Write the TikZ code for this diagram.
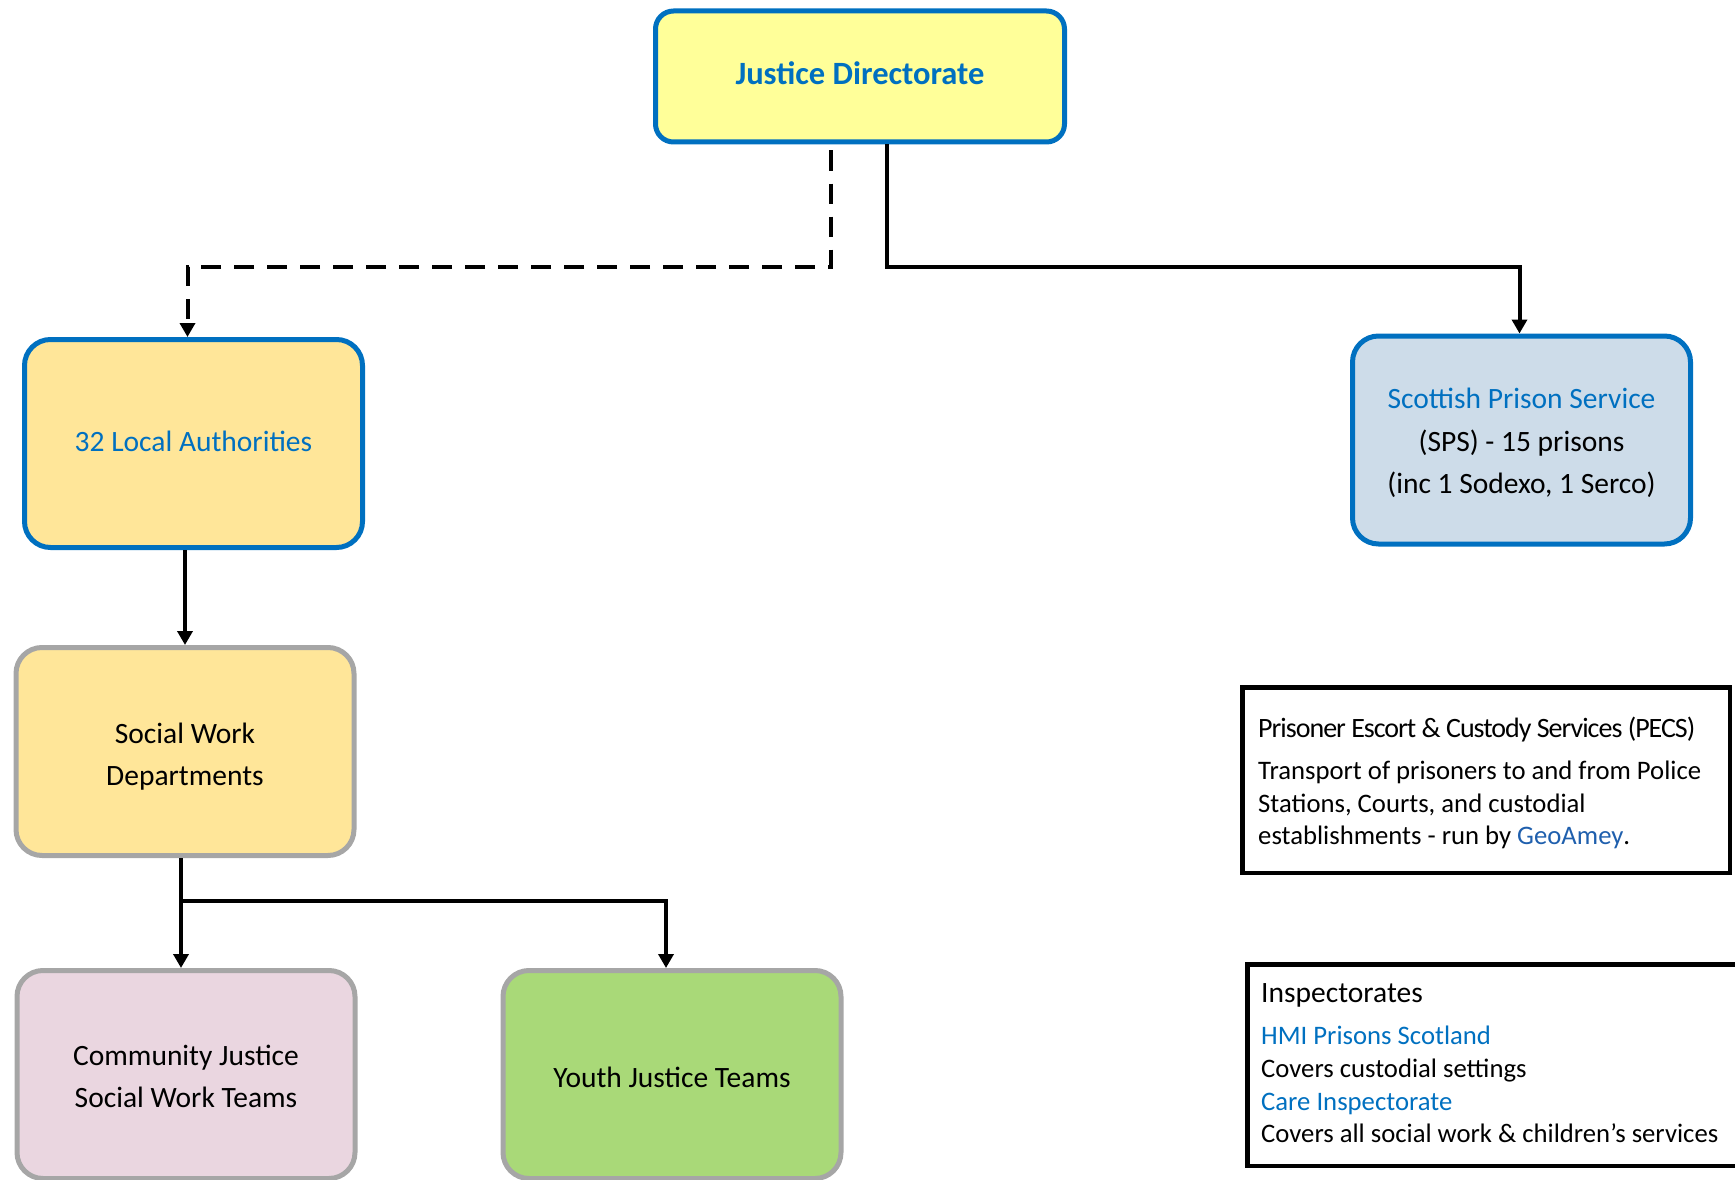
\documentclass[tikz,border=0pt]{standalone}
\usepackage{fontspec}
\setmainfont{Carlito}
\usetikzlibrary{arrows.meta,calc}
\definecolor{bluebd}{HTML}{0070C0}
\definecolor{greybd}{HTML}{A6A6A6}
\definecolor{jdfill}{HTML}{FFFF99}
\definecolor{orfill}{HTML}{FFE699}
\definecolor{spsfill}{HTML}{CDDCE9}
\definecolor{cjfill}{HTML}{EAD6E0}
\definecolor{yjfill}{HTML}{A9D978}
\definecolor{txtblue}{HTML}{0070C0}
\definecolor{linkblue}{HTML}{1F5FAD}
\begin{document}
\begin{tikzpicture}[x=1pt,y=-1pt,
  box/.style={draw, line width=5pt, rounded corners=26pt, inner sep=0pt, align=center,
    font=\fontsize{29.5}{42.5}\selectfont, minimum width=338pt, minimum height=208pt},
  bluebox/.style={box, draw=bluebd},
  greybox/.style={box, draw=greybd},
  plainbox/.style={draw=black, line width=4.5pt, inner sep=0pt},
  bodytxt/.style={anchor=base west, inner sep=0pt, font=\fontsize{26.7}{32}\selectfont},
  conn/.style={line width=4pt, -{Triangle[length=14pt,width=15pt]}},
  dashconn/.style={conn, dash pattern=on 20pt off 13pt}]
\useasboundingbox (0,0) rectangle (1735,1180);
\clip (0,0) rectangle (1735,1180);

% boxes
\node[bluebox, fill=jdfill, minimum width=409pt, minimum height=131pt, rounded corners=18pt,
      font=\fontsize{32.5}{38}\selectfont\bfseries, text=txtblue] (jd) at (860,76.5) {Justice Directorate\rule[-6pt]{0pt}{1pt}};
\node[bluebox, fill=orfill, text=txtblue] (la) at (193.5,443.5) {32 Local Authorities\rule[-4.5pt]{0pt}{1pt}};
\node[bluebox, fill=spsfill] (sps) at (1521.5,440)
  {\rule{0pt}{27pt}\textcolor{txtblue}{Scottish Prison Service}\\(SPS) - 15 prisons\\(inc 1 Sodexo, 1 Serco)};
\node[greybox, fill=orfill] (swd) at (185,751.5) {\rule{0pt}{31pt}Social Work\\Departments};
\node[greybox, fill=cjfill] (cj) at (186,1074.5) {\rule{0pt}{24.5pt}Community Justice\\Social Work Teams};
\node[greybox, fill=yjfill] (yj) at (672,1074.5) {\rule{0pt}{25.5pt}Youth Justice Teams};

\node[plainbox, minimum width=487.5pt, minimum height=185.5pt] (pecs) at (1486,780) {};
\node[plainbox, minimum width=510pt, minimum height=201.5pt] (insp) at (1502.5,1065) {};

% PECS text
\node[bodytxt, font=\fontsize{28}{32}\selectfont\addfontfeature{LetterSpace=-3.6}] (pecsT) at (1258,737) {Prisoner Escort \& Custody Services (PECS)};
\node[bodytxt] (pecs1) at (1258,779) {Transport of prisoners to and from Police};
\node[bodytxt] (pecs2) at (1258,812) {Stations, Courts, and custodial};
\node[bodytxt] (pecs3) at (1258,844) {establishments - run by \textcolor{linkblue}{GeoAmey}.};

% Inspectorates text
\node[bodytxt, font=\fontsize{29.5}{34}\selectfont] (inspT) at (1261,1002) {Inspectorates};
\node[bodytxt, text=txtblue] (insp1) at (1261,1044) {HMI Prisons Scotland};
\node[bodytxt] (insp2) at (1261,1077) {Covers custodial settings};
\node[bodytxt, text=txtblue] (insp3) at (1261,1110) {Care Inspectorate};
\node[bodytxt] (insp4) at (1261,1142) {Covers all social work \& children’s services};

% connectors
\draw[dashconn] ([xshift=-29pt,yshift=-6pt]jd.south) -- ++(0,116) -| ([xshift=-6pt]la.north);
\draw[conn] ([xshift=27pt]jd.south) -- ++(0,122) -| ([xshift=-2pt]sps.north);
\draw[conn] (la.south -| swd.north) -- (swd.north);
\draw[conn] ([xshift=-4pt]swd.south) -- ([xshift=-5pt]cj.north);
\draw[conn] ([xshift=-4pt,yshift=-43pt]swd.south) -| ([xshift=-6pt]yj.north);
\end{tikzpicture}
\end{document}
